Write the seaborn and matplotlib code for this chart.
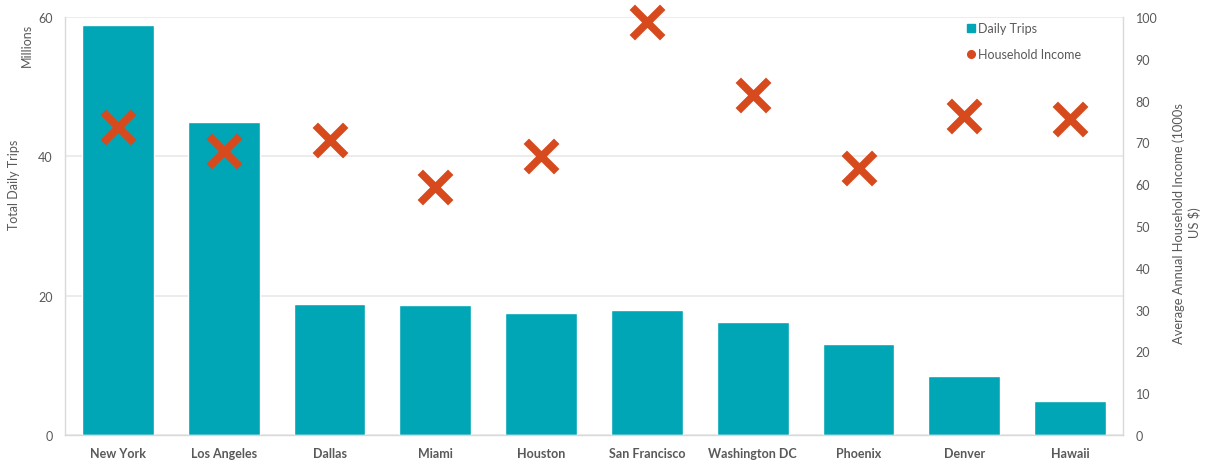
import matplotlib
matplotlib.use("Agg")
import matplotlib.pyplot as plt
from matplotlib.lines import Line2D
import seaborn as sns
import pandas as pd

cities = ["New York", "Los Angeles", "Dallas", "Miami", "Houston",
          "San Francisco", "Washington DC", "Phoenix", "Denver", "Hawaii"]
daily_trips = [58.8, 44.9, 18.8, 18.6, 17.5, 17.9, 16.2, 13.1, 8.5, 4.9]
household_income = [73.7, 67.9, 70.6, 59.3, 66.7, 98.8, 81.3, 63.9, 76.3, 75.6]
left_ticks = [0, 20, 40, 60]
right_ticks = list(range(0, 101, 10))

BAR = "#00A6B6"
XCOL = "#D64A1E"
TXT = "#595959"
GRID = "#EBEBEB"
FS = 9

sns.set_theme(style="white")
plt.rcParams["font.family"] = ["Lato", "DejaVu Sans"]

df = pd.DataFrame({"city": cities, "trips": daily_trips, "income": household_income})

fig = plt.figure(figsize=(12.08, 4.64), dpi=100)
ax = fig.add_axes([65/1208, 1 - 436/464, (1123 - 65)/1208, (436 - 18)/464])

sns.barplot(data=df, x="city", y="trips", color=BAR, saturation=1, width=0.68, ax=ax, zorder=2)
ax.set_ylim(0, 60)
ax.set_xlim(-0.5, len(cities) - 0.5)
ax.set_yticks(left_ticks)
ax.yaxis.grid(True, color=GRID, linewidth=1.3, zorder=0)
ax.set_axisbelow(True)
ax.set_xlabel("")
ax.set_ylabel("")
for s in ["left", "bottom", "right"]:
    ax.spines[s].set_visible(True)
    ax.spines[s].set_color("#D9D9D9")
    ax.spines[s].set_linewidth(1.0)
ax.spines["top"].set_visible(False)
ax.tick_params(axis="y", length=0, pad=9, labelsize=FS, labelcolor=TXT)
ax.tick_params(axis="x", which="major", length=0, pad=9, labelsize=FS, labelcolor=TXT)
ax.set_xticks([i + 0.5 for i in range(-1, len(cities))], minor=True)
ax.tick_params(axis="x", which="minor", length=5, color="#D9D9D9", width=1)
for lab in ax.get_xticklabels():
    lab.set_fontweight("bold")

ax2 = ax.twinx()
sns.scatterplot(data=df, x="city", y="income", marker="x", s=480, color=XCOL,
                linewidth=5.5, ax=ax2, zorder=3, legend=False)
for c in ax2.collections:
    c.set_clip_on(False)
ax2.set_ylim(0, 100)
ax2.set_yticks(right_ticks)
ax2.set_ylabel("")
ax2.tick_params(axis="y", length=0, pad=9, labelsize=FS, labelcolor=TXT)
for s in ax2.spines.values():
    s.set_visible(False)

fig.text(14/1208, 1 - 185/464, "Total Daily Trips", rotation=90, ha="center", va="center",
         fontsize=FS, color=TXT)
fig.text(27/1208, 1 - 45/464, "Millions", rotation=90, ha="center", va="center",
         fontsize=FS, color=TXT)
fig.text(1187/1208, 1 - 223/464, "Average Annual Household Income (1000s\nUS $)", rotation=90,
         ha="center", va="center", multialignment="center", fontsize=FS + 0.3, color=TXT,
         linespacing=1.25)

handles = [Line2D([], [], marker="s", linestyle="none", color=BAR, markersize=6),
           Line2D([], [], marker="o", linestyle="none", color=XCOL, markersize=5.5)]
leg = ax2.legend(handles, ["Daily Trips", "Household Income"], loc="upper left",
                 bbox_to_anchor=(960/1208, 1 - 17/464), bbox_transform=fig.transFigure,
                 frameon=False, fontsize=FS, handlelength=0.7, handletextpad=0.25,
                 labelspacing=1.1, borderpad=0)
for t in leg.get_texts():
    t.set_color(TXT)

fig.savefig("out.png", dpi=100)
